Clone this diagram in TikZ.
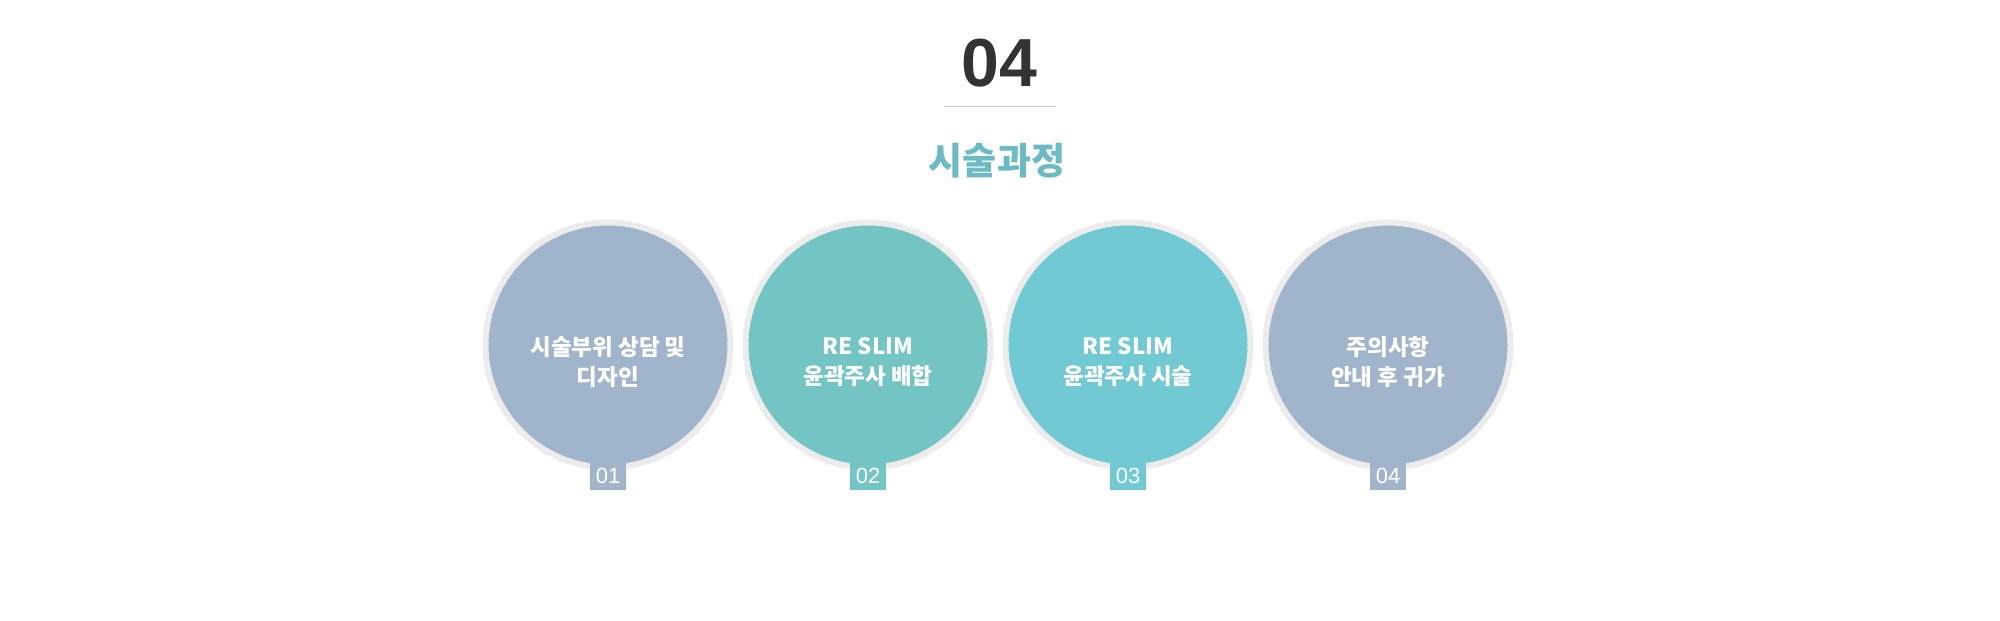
\documentclass[tikz,border=0pt]{standalone}
\usepackage{fontspec}
\usepackage{tikz}
\setmainfont{Noto Sans}
\newfontfamily\krfont{Noto Sans CJK KR}
\newfontfamily\numfont{Liberation Sans}
\definecolor{ringgray}{HTML}{ECECEC}
\definecolor{stepblue}{HTML}{A0B5CC}
\definecolor{stepgreen}{HTML}{72C5C2}
\definecolor{stepcyan}{HTML}{70C9D3}
\definecolor{titleteal}{HTML}{6BBBC4}
\definecolor{titledark}{HTML}{333333}
\definecolor{rulegray}{HTML}{C8C8C8}

\begin{document}
\begin{tikzpicture}[x=1pt, y=-1pt,
		stepcircle/.style={circle, minimum size=245pt, inner sep=0pt, outer sep=0pt, draw=ringgray, line width=6pt},
		steptext/.style={text=white, align=center, inner sep=0pt, font=\krfont\bfseries\fontsize{22.5}{29.5}\selectfont},
		numtab/.style={rectangle, minimum width=36pt, minimum height=28pt, inner sep=0pt, text=white, font=\numfont\fontsize{22}{22}\selectfont}]
		\useasboundingbox[fill=white] (0,0) rectangle (2000,621);
		% heading
		\node[text=titledark, font=\numfont\bfseries\fontsize{68}{68}\selectfont] (num) at (999,63) {04};
		\draw[rulegray, line width=1pt] (944,106) -- (1056,106);
		\node[text=titleteal, font=\krfont\bfseries\fontsize{37}{37}\selectfont] (title) at (997,161) {시술과정};
		% steps
		\foreach \i/\x/\col/\txt in {1/608/stepblue/{시술부위 상담 및\\디자인}, 2/868/stepgreen/{RE SLIM\\윤곽주사 배합}, 3/1128/stepcyan/{RE SLIM\\윤곽주사 시술}, 4/1388/stepblue/{주의사항\\안내 후 귀가}} {
			\node[stepcircle, fill=\col] (c\i) at (\x,345) {};
			\node[steptext] (t\i) at ([yshift=-17pt]c\i.center) {\txt};
			\node[numtab, fill=\col] (n\i) at (\x,476) {0\i};
		}
	\end{tikzpicture}
\end{document}
